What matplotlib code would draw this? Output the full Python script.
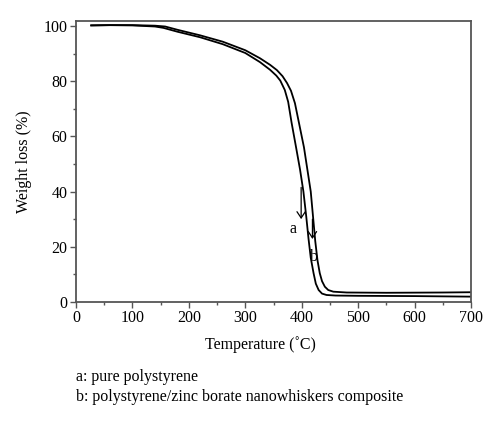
import matplotlib
matplotlib.use('Agg')
import matplotlib.pyplot as plt
from matplotlib.ticker import MultipleLocator

# TGA curves (temperature in C, weight in %)
temp_a = [27, 60, 100, 140, 155, 180, 220, 260, 300, 326, 344, 355, 362, 370,
          376, 382, 390, 397, 403, 408, 412, 416, 421, 425, 430, 436, 444, 460,
          500, 600, 700]
weight_a = [100.2, 100.3, 100.2, 99.8, 99.3, 97.9, 95.9, 93.4, 90.2, 86.9, 84.1,
            82.0, 80.2, 76.8, 72.5, 65.0, 56.0, 48.0, 40.0, 31.0, 23.0, 16.0,
            10.4, 6.6, 4.3, 3.0, 2.5, 2.3, 2.2, 2.1, 1.9]
temp_b = [27, 60, 100, 140, 158, 180, 220, 260, 300, 326, 344, 356, 366, 374,
          381, 388, 394, 399, 404, 410, 416, 420, 424, 428, 432, 436, 441, 447,
          456, 480, 550, 650, 700]
weight_b = [100.2, 100.3, 100.3, 100.1, 99.8, 98.6, 96.6, 94.3, 91.2, 88.3, 85.9,
            84.0, 81.8, 79.3, 76.5, 72.0, 66.0, 61.0, 56.0, 48.0, 40.0, 31.0,
            22.0, 15.0, 10.4, 7.5, 5.5, 4.3, 3.7, 3.4, 3.3, 3.4, 3.5]

xticks = [0, 100, 200, 300, 400, 500, 600, 700]
yticks = [0, 20, 40, 60, 80, 100]

serif = 'Liberation Serif'
spine_col = '#555555'


def main() -> None:
    fig = plt.figure(figsize=(5.0, 4.24), dpi=100)
    ax = fig.add_axes([0.152, 0.288, 0.79, 0.6625])

    ax.plot(temp_a, weight_a, color='black', lw=1.3)
    ax.plot(temp_b, weight_b, color='black', lw=1.3)

    # arrows with labels
    arrow = dict(arrowstyle='->,head_length=0.45,head_width=0.3',
                 color='black', lw=0.9)
    ax.annotate('', xy=(399, 29.0), xytext=(399, 42.5), arrowprops=arrow)
    ax.annotate('', xy=(419, 21.8), xytext=(419, 31.0), arrowprops=arrow)
    ax.text(385, 26.4, 'a', fontsize=11.5, family=serif, ha='center', va='center')
    ax.text(421, 16.4, 'b', fontsize=11.5, family=serif, ha='center', va='center')

    ax.set_xlim(0, 700)
    ax.set_ylim(0, 101.8)
    ax.set_xticks(xticks)
    ax.set_yticks(yticks)
    ax.xaxis.set_minor_locator(MultipleLocator(50))
    ax.yaxis.set_minor_locator(MultipleLocator(10))
    ax.tick_params(which='major', direction='out', length=4, width=1.0,
                   color=spine_col, labelsize=11.5, pad=2)
    ax.tick_params(which='minor', direction='out', length=2.5, width=1.0,
                   color=spine_col)
    for lab in ax.get_xticklabels() + ax.get_yticklabels():
        lab.set_family(serif)
    for s in ax.spines.values():
        s.set_color(spine_col)
        s.set_linewidth(1.3)

    ax.set_xlabel('Temperature (˚C)', family=serif, fontsize=11.5)
    ax.xaxis.set_label_coords(0.468, -0.122)
    ax.set_ylabel('Weight loss (%)', family=serif, fontsize=11.5)
    ax.yaxis.set_label_coords(-0.111, 0.5)

    fig.text(0.152, 0.112, 'a: pure polystyrene', family=serif, fontsize=11.5,
             va='center')
    fig.text(0.152, 0.064, 'b: polystyrene/zinc borate nanowhiskers composite',
             family=serif, fontsize=11.5, va='center')

    fig.savefig('out.png', dpi=100)


if __name__ == "__main__":
    main()
